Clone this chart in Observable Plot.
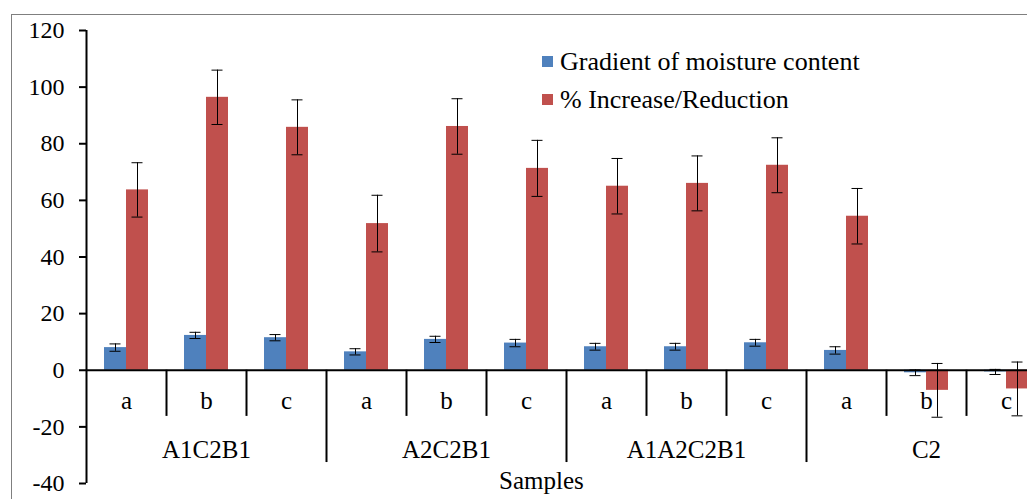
<!DOCTYPE html>
<html>
<head>
<meta charset="utf-8">
<script src="https://cdn.jsdelivr.net/npm/d3@7"></script>
<script src="https://cdn.jsdelivr.net/npm/@observablehq/plot@0.6"></script>
<style>
  body { margin: 0; overflow: hidden; background: white; }
  #wrap { position: relative; width: 1027px; height: 499px; overflow: hidden; background: white; font-family: "Liberation Serif", "Times New Roman", Times, Tinos, "Noto Serif", "DejaVu Serif", serif; }
  #frame { position: absolute; left: 11px; top: 14px; width: 1200px; height: 700px; border: 1px solid #7f7f7f; box-sizing: border-box; }
  #chart { position: absolute; left: 0; top: 0; }
  .leg { position: absolute; font-size: 26px; color: #000; white-space: nowrap; line-height: 1; }
  .sw { position: absolute; width: 11px; height: 11px; }
  #xtitle { position: absolute; font-size: 25px; line-height: 1; white-space: nowrap; }
  #chart svg text { font-family: "Liberation Serif", "Times New Roman", Times, Tinos, "Noto Serif", "DejaVu Serif", serif; }
</style>
</head>
<body>
<div id="wrap">
  <div id="frame"></div>
  <div id="chart"></div>
  <div class="sw" style="left:542px;top:56px;background:#4F81BD"></div>
  <div class="leg" style="left:560px;top:49px">Gradient of moisture content</div>
  <div class="sw" style="left:542px;top:94px;background:#C0504D"></div>
  <div class="leg" style="left:560px;top:87px">% Increase/Reduction</div>
  <div id="xtitle" style="left:499px;top:468px">Samples</div>
</div>
<script>
const groups = ["A1C2B1", "A2C2B1", "A1A2C2B1", "C2"];
const subs = ["a", "b", "c"];
const gradient    = [8.0, 12.3, 11.5, 6.5, 10.9, 9.6, 8.3, 8.3, 9.7, 7.0, -0.9, -0.6];
const gradientErr = [1.3, 1.1, 1.1, 1.1, 1.1, 1.3, 1.2, 1.2, 1.2, 1.3, 1.0, 0.9];
const percent     = [63.7, 96.4, 85.8, 51.8, 86.1, 71.3, 65.0, 66.0, 72.4, 54.4, -7.1, -6.6];
const percentErr  = [9.6, 9.6, 9.7, 10.0, 9.8, 9.9, 9.8, 9.7, 9.7, 9.8, 9.5, 9.5];
const yTicks = [-40, -20, 0, 20, 40, 60, 80, 100, 120];

const rows = [];
groups.forEach((g, gi) => subs.forEach((s, si) => {
  const i = gi * 3 + si;
  rows.push({id: g + "|" + s, group: g, sub: s, i,
    grad: gradient[i], gradErr: gradientErr[i],
    pct: percent[i], pctErr: percentErr[i]});
}));
const ids = rows.map(d => d.id);
const half = 40; // half of band width (960 / 12 / 2)
const subSeps = rows.filter(d => d.i > 0 && d.i % 3 !== 0);
const groupSeps = rows.filter(d => d.i > 0 && d.i % 3 === 0);
const groupMid = rows.filter(d => d.sub === "b");
const serif = '"Liberation Serif", "Times New Roman", Times, Tinos, "Noto Serif", "DejaVu Serif", serif';

const chart = Plot.plot({
  width: 1060,
  height: 499,
  marginLeft: 86,
  marginRight: 14,
  marginTop: 30,
  marginBottom: 16,
  style: {fontFamily: serif, fontSize: "24px", background: "transparent", maxWidth: "none", overflow: "visible"},
  x: {type: "band", domain: ids, padding: 0, axis: null},
  y: {domain: [-40, 120], axis: null},
  marks: [
    Plot.barY(rows, {x: "id", y: "grad", fill: "#4F81BD", insetLeft: 18, insetRight: 40}),
    Plot.barY(rows, {x: "id", y: "pct", fill: "#C0504D", insetLeft: 40, insetRight: 18}),
    // error bars
    Plot.ruleX(rows, {x: "id", y1: d => d.grad - d.gradErr, y2: d => d.grad + d.gradErr, dx: -11, stroke: "#000", strokeWidth: 1}),
    Plot.tickY(rows, {x: "id", y: d => d.grad - d.gradErr, insetLeft: 23.5, insetRight: 45.5, stroke: "#000", strokeWidth: 1}),
    Plot.tickY(rows, {x: "id", y: d => d.grad + d.gradErr, insetLeft: 23.5, insetRight: 45.5, stroke: "#000", strokeWidth: 1}),
    Plot.ruleX(rows, {x: "id", y1: d => d.pct - d.pctErr, y2: d => d.pct + d.pctErr, dx: 11, stroke: "#000", strokeWidth: 1}),
    Plot.tickY(rows, {x: "id", y: d => d.pct - d.pctErr, insetLeft: 45.5, insetRight: 23.5, stroke: "#000", strokeWidth: 1}),
    Plot.tickY(rows, {x: "id", y: d => d.pct + d.pctErr, insetLeft: 45.5, insetRight: 23.5, stroke: "#000", strokeWidth: 1}),
    // y axis
    Plot.axisY({ticks: yTicks, tickSize: 7, tickPadding: 15, fontSize: 24, strokeWidth: 2, tickFormat: d => d}),
    Plot.ruleX([ids[0]], {x: d => d, dx: -half, y1: -40, y2: 120, stroke: "#000", strokeWidth: 2}),
    // x axis line at zero
    Plot.ruleY([0], {stroke: "#000", strokeWidth: 2}),
    // category separators
    Plot.ruleX(subSeps, {x: "id", dx: -half, y1: 0, y2: -16.3, stroke: "#000", strokeWidth: 2}),
    Plot.ruleX(groupSeps, {x: "id", dx: -half, y1: 0, y2: -32.6, stroke: "#000", strokeWidth: 2}),
    // labels
    Plot.text(rows, {x: "id", y: () => 0, text: "sub", dy: 31, fontSize: 25, fill: "#000"}),
    Plot.text(groupMid, {x: "id", y: () => 0, text: "group", dy: 80, fontSize: 25, fill: "#000"})
  ]
});
document.getElementById("chart").appendChild(chart);
</script>
</body>
</html>
